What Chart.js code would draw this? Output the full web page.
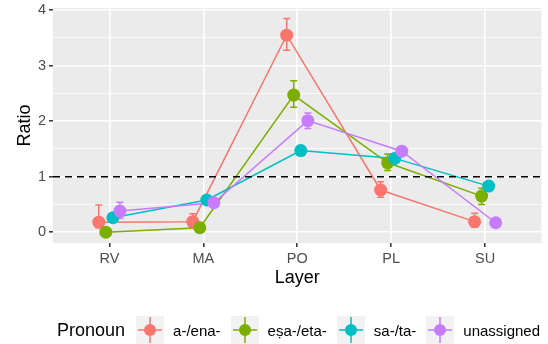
<!DOCTYPE html>
<html>
<head>
<meta charset="utf-8">
<script src="https://cdn.jsdelivr.net/npm/chart.js@4.4.1/dist/chart.umd.min.js"></script>
<style>
	body { margin: 0; background: #fff; }
	#wrap { position: relative; width: 548px; height: 344px; font-family: "Liberation Sans", Arial, sans-serif; }
	#chart { position: absolute; left: 0; top: 0; }
	#legend { position: absolute; left: 57px; top: 316px; height: 28px; display: flex; align-items: center; white-space: nowrap; }
	#legend .title { font-size: 18px; color: #000; margin-right: 11px; }
	#legend canvas { display: block; }
	#legend .lab { font-size: 15px; color: #000; margin: 0 10px 0 9px; }
</style>
</head>
<body>
<div id="wrap">
	<canvas id="chart" width="548" height="344"></canvas>
	<div id="legend"><span class="title">Pronoun</span></div>
</div>
<script>
const layers = ["RV", "MA", "PO", "PL", "SU"];
const pronouns = ["a-/ena-", "eṣa-/eta-", "sa-/ta-", "unassigned"];
const colors = ["#F8766D", "#7CAE00", "#00BFC4", "#C77CFF"];

// mean ratio + error bar bounds per pronoun group
const ratioAEna = [0.18, 0.19, 3.55, 0.76, 0.19];
const lowerAEna = [0.08, 0.09, 3.28, 0.63, 0.09];
const upperAEna = [0.49, 0.33, 3.85, 0.91, 0.34];
const ratioEsa = [0.00, 0.08, 2.47, 1.25, 0.65];
const lowerEsa = [0.00, 0.03, 2.25, 1.11, 0.50];
const upperEsa = [0.00, 0.13, 2.73, 1.41, 0.79];
const ratioSa = [0.26, 0.58, 1.47, 1.33, 0.83];
const lowerSa = [0.22, 0.54, 1.42, 1.28, 0.78];
const upperSa = [0.30, 0.62, 1.52, 1.38, 0.88];
const ratioUn = [0.38, 0.53, 2.01, 1.46, 0.17];
const lowerUn = [0.25, 0.47, 1.87, 1.40, 0.12];
const upperUn = [0.54, 0.59, 2.15, 1.52, 0.22];

const yMajor = [0, 1, 2, 3, 4];
const yMinor = [0.5, 1.5, 2.5, 3.5];
const refLine = 1;

const series = [
	{ mean: ratioAEna, lo: lowerAEna, hi: upperAEna },
	{ mean: ratioEsa, lo: lowerEsa, hi: upperEsa },
	{ mean: ratioSa, lo: lowerSa, hi: upperSa },
	{ mean: ratioUn, lo: lowerUn, hi: upperUn },
];

// position_dodge(0.3)
const DODGE = 0.3;
function xPos(s, i) {
	return i + 1 + (s - 1.5) * (DODGE / 4);
}

const datasets = [];
series.forEach((s, k) => {
	const pts = s.mean.map((v, i) => ({ x: xPos(k, i), y: v }));
	// line layer (drawn under all points)
	datasets.push({
		data: pts,
		showLine: true,
		borderColor: colors[k],
		borderWidth: 1.5,
		pointRadius: 0,
		order: 10 + (3 - k),
	});
	datasets.push({
		data: pts,
		showLine: false,
		backgroundColor: colors[k],
		borderWidth: 0,
		pointRadius: 6.5,
		pointHoverRadius: 6.5,
		order: 3 - k,
	});
});

const panelBg = {
	id: "panelBg",
	beforeDraw(chart) {
		const { ctx, chartArea: a } = chart;
		ctx.save();
		ctx.fillStyle = "#EBEBEB";
		ctx.fillRect(a.left, a.top, a.width, a.height);
		ctx.restore();
	},
};

const errorBars = {
	id: "errorBars",
	beforeDatasetsDraw(chart) {
		const { ctx } = chart;
		const xs = chart.scales.x;
		const ys = chart.scales.y;
		ctx.save();
		ctx.lineWidth = 1.5;
		series.forEach((s, k) => {
			ctx.strokeStyle = colors[k];
			s.mean.forEach((v, i) => {
				if (s.hi[i] === s.lo[i]) return;
				const x = xs.getPixelForValue(xPos(k, i));
				const y1 = ys.getPixelForValue(s.lo[i]);
				const y2 = ys.getPixelForValue(s.hi[i]);
				ctx.beginPath();
				ctx.moveTo(x, y1); ctx.lineTo(x, y2);
				ctx.moveTo(x - 3.5, y1); ctx.lineTo(x + 3.5, y1);
				ctx.moveTo(x - 3.5, y2); ctx.lineTo(x + 3.5, y2);
				ctx.stroke();
			});
		});
		ctx.restore();
	},
};

const hline = {
	id: "hline",
	afterDatasetsDraw(chart) {
		const { ctx, chartArea: a } = chart;
		const y = chart.scales.y.getPixelForValue(refLine);
		ctx.save();
		ctx.strokeStyle = "#000";
		ctx.lineWidth = 1.5;
		ctx.setLineDash([7, 5]);
		ctx.beginPath();
		ctx.moveTo(a.left, y);
		ctx.lineTo(a.right, y);
		ctx.stroke();
		ctx.restore();
	},
};

new Chart(document.getElementById("chart"), {
	type: "scatter",
	data: { datasets: datasets },
	plugins: [panelBg, errorBars, hline],
	options: {
		responsive: false,
		animation: false,
		devicePixelRatio: 1,
		layout: { padding: { left: 0, right: 6, top: 8, bottom: 51 } },
		plugins: { legend: { display: false }, tooltip: { enabled: false } },
		scales: {
			x: {
				type: "linear",
				min: 0.4,
				max: 5.6,
				afterBuildTicks: (scale) => {
					scale.ticks = layers.map((l, i) => ({ value: i + 1 }));
				},
				afterFit: (scale) => {
					scale.height = 50;
					scale.paddingLeft = 0;
					scale.paddingRight = 0;
				},
				border: { display: false },
				grid: { color: "#FFFFFF", lineWidth: 1.6, tickColor: "#333333", tickLength: 4, tickWidth: 1.5 },
				ticks: {
					padding: 3,
					color: "#4D4D4D",
					font: { family: "Liberation Sans", size: 14.5 },
					callback: (v) => layers[Math.round(v) - 1],
				},
				title: {
					display: true,
					text: "Layer",
					color: "#000",
					padding: { top: 7 },
					font: { family: "Liberation Sans", size: 18 },
				},
			},
			y: {
				type: "linear",
				min: -0.195,
				max: 4.04,
				afterBuildTicks: (scale) => {
					scale.ticks = yMajor.concat(yMinor).sort((a, b) => a - b).map((v) => ({ value: v }));
				},
				afterFit: (scale) => {
					scale.width = 53;
					scale.paddingTop = 0;
					scale.paddingBottom = 0;
				},
				border: { display: false },
				grid: {
					color: "#FFFFFF",
					lineWidth: (c) => (Number.isInteger(c.tick.value) ? 1.6 : 0.8),
					tickColor: (c) => (Number.isInteger(c.tick.value) ? "#333333" : "rgba(0,0,0,0)"),
					tickLength: 4,
					tickWidth: 1.5,
				},
				ticks: {
					padding: 3,
					color: "#4D4D4D",
					font: { family: "Liberation Sans", size: 14.5 },
					callback: (v) => (Number.isInteger(v) ? String(v) : ""),
				},
				title: {
					display: true,
					text: "Ratio",
					color: "#000",
					padding: { top: 14 },
					font: { family: "Liberation Sans", size: 18 },
				},
			},
		},
	},
});

// ggplot-style legend keys
const legendEl = document.getElementById("legend");
pronouns.forEach((name, k) => {
	const c = document.createElement("canvas");
	c.width = 28;
	c.height = 28;
	const g = c.getContext("2d");
	g.fillStyle = "#F2F2F2";
	g.fillRect(0, 0, 28, 28);
	g.strokeStyle = colors[k];
	g.lineWidth = 1.5;
	g.beginPath();
	g.moveTo(2, 14); g.lineTo(26, 14);
	g.moveTo(14, 1); g.lineTo(14, 27);
	g.stroke();
	g.fillStyle = colors[k];
	g.beginPath();
	g.arc(14, 14, 6, 0, Math.PI * 2);
	g.fill();
	legendEl.appendChild(c);
	const lab = document.createElement("span");
	lab.className = "lab";
	lab.textContent = name;
	legendEl.appendChild(lab);
});
</script>
</body>
</html>
